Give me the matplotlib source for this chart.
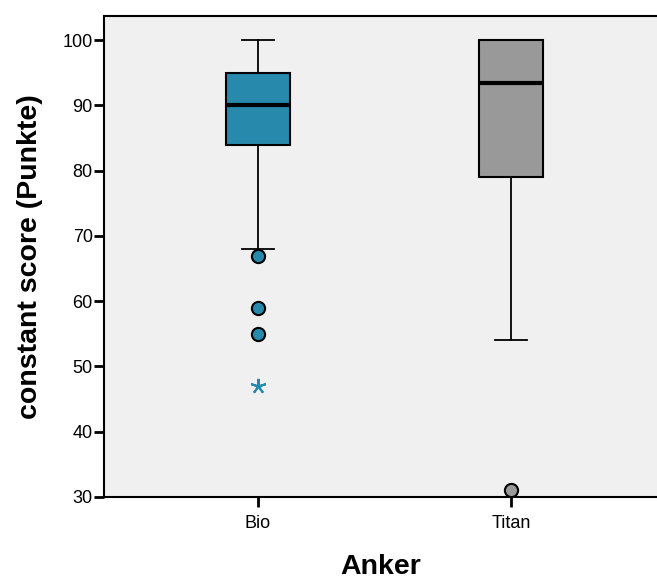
import matplotlib
matplotlib.use("Agg")
import matplotlib.pyplot as plt

plt.rcParams['font.family'] = ['Liberation Sans', 'DejaVu Sans']

categories = ["Bio", "Titan"]
q1 = [84, 79]
med = [90, 93.5]
q3 = [95, 100]
whislo = [68, 54]
whishi = [100, 100]
outliers = [[67, 59, 55], [31]]
extremes = [[47], []]
colors = ["#2789AB", "#999999"]

fig = plt.figure(figsize=(6.57, 5.84), dpi=100)
ax = fig.add_axes([0.158, 0.149, 0.842, 0.8236])
ax.set_facecolor("#F0F0F0")

stats = []
for i, c in enumerate(categories):
    stats.append(dict(label=c, q1=q1[i], med=med[i], q3=q3[i],
                      whislo=whislo[i], whishi=whishi[i], fliers=[]))
pos = [1, 2]
bp = ax.bxp(stats, positions=pos, widths=0.25, patch_artist=True,
            showfliers=False,
            boxprops=dict(linewidth=1.5, edgecolor='black'),
            medianprops=dict(color='black', linewidth=3),
            whiskerprops=dict(color='black', linewidth=1.3),
            capprops=dict(color='black', linewidth=1.3),
            capwidths=0.125)
for patch, col in zip(bp['boxes'], colors):
    patch.set_facecolor(col)

for p, outs, ext, col in zip(pos, outliers, extremes, colors):
    if outs:
        ax.plot([p] * len(outs), outs, linestyle='none', marker='o',
                markersize=9.5, markerfacecolor=col, markeredgecolor='black',
                markeredgewidth=1.5, zorder=5)
    if ext:
        ax.plot([p] * len(ext), ext, linestyle='none', marker=(5, 2, 0),
                markersize=11, color=col, markeredgewidth=1.5, zorder=5)

ax.set_xlim(0.391, 2.577)
ax.set_ylim(30, 103.7)
ax.set_yticks([30, 40, 50, 60, 70, 80, 90, 100])
ax.set_xticks(pos)
ax.set_xticklabels(categories)
ax.tick_params(axis='both', labelsize=13, width=2, length=7, color='black')
ax.tick_params(axis='y', pad=1)
ax.tick_params(axis='x', pad=6)
for s in ['left', 'top', 'bottom']:
    ax.spines[s].set_linewidth(1.5)
ax.spines['right'].set_visible(False)

ax.set_ylabel("constant score (Punkte)", fontsize=20.5, fontweight='bold', labelpad=14)
ax.set_xlabel("Anker", fontsize=20.5, fontweight='bold', labelpad=16)

fig.savefig("out.png", dpi=100)
